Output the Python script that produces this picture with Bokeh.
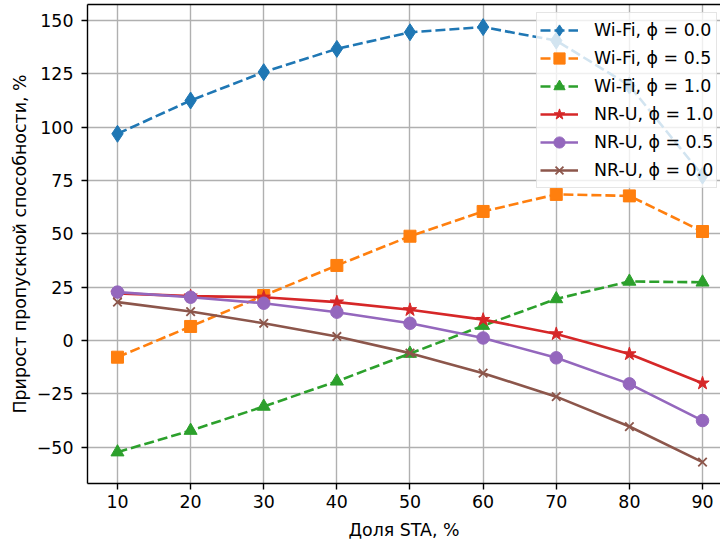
from bokeh.plotting import figure
from bokeh.models import (Range1d, FixedTicker, LinearAxis, CustomJSTickFormatter,
                          Legend, LegendItem)
from bokeh.embed import file_html
from bokeh.resources import INLINE

# ---- data ----
sta_share = [10, 20, 30, 40, 50, 60, 70, 80, 90]
wifi_00 = [96.9, 112.5, 125.8, 136.7, 144.5, 146.9, 140.6, 119.5, 77.3]
wifi_05 = [-7.8, 6.6, 21.1, 35.2, 48.9, 60.5, 68.5, 67.8, 51.1]
wifi_10 = [-52.3, -42.2, -30.9, -19.1, -6.1, 7.0, 19.5, 27.7, 27.3]
nru_10 = [22.1, 20.8, 20.3, 18.0, 14.4, 9.8, 3.1, -6.3, -20.0]
nru_05 = [22.7, 20.3, 17.5, 13.3, 8.1, 1.2, -8.1, -20.3, -37.5]
nru_00 = [18.0, 13.6, 8.1, 1.9, -5.9, -15.3, -26.3, -40.3, -57.0]

x_ticks = [10, 20, 30, 40, 50, 60, 70, 80, 90]
y_ticks = [-50, -25, 0, 25, 50, 75, 100, 125, 150]

labels = ["Wi-Fi, ϕ = 0.0", "Wi-Fi, ϕ = 0.5", "Wi-Fi, ϕ = 1.0",
          "NR-U, ϕ = 1.0", "NR-U, ϕ = 0.5", "NR-U, ϕ = 0.0"]
series = [wifi_00, wifi_05, wifi_10, nru_10, nru_05, nru_00]
colors = ["#1f77b4", "#ff7f0e", "#2ca02c", "#d62728", "#9467bd", "#8c564b"]
markers = ["diamond", "square", "triangle", "star", "circle", "x"]
msizes = [17, 12, 13, 14, 12.5, 12]
dashes = ["10 4", "10 4", "10 4", "solid", "solid", "solid"]

FONT = "DejaVu Sans"
FS = "17.4px"

p = figure(width=720, height=543, output_backend="svg", toolbar_location=None,
           x_range=Range1d(5.9, 92.46), y_range=Range1d(-67.0, 157.5),
           min_border_left=87, min_border_right=0, min_border_top=4,
           min_border_bottom=60)
p.outline_line_color = None
p.background_fill_color = "white"
p.border_fill_color = "white"

# axes
for ax in (p.xaxis[0], p.yaxis[0]):
    ax.axis_line_width = 1.4
    ax.axis_line_color = "black"
    ax.major_tick_line_width = 1.4
    ax.major_tick_line_color = "black"
    ax.major_tick_out = 6
    ax.major_tick_in = 0
    ax.minor_tick_line_color = None
    ax.major_label_text_font = FONT
    ax.major_label_text_font_size = FS
    ax.major_label_text_color = "black"
    ax.axis_label_text_font = FONT
    ax.axis_label_text_font_size = FS
    ax.axis_label_text_font_style = "normal"
    ax.axis_label_text_color = "black"

p.xaxis[0].ticker = FixedTicker(ticks=x_ticks)
p.yaxis[0].ticker = FixedTicker(ticks=y_ticks)
p.yaxis[0].formatter = CustomJSTickFormatter(
    code="return tick < 0 ? '\\u2212' + (-tick) : String(tick);")
p.xaxis[0].axis_label = "Доля STA, %"
p.yaxis[0].axis_label = "Прирост пропускной способности, %"
p.xaxis[0].major_label_standoff = 5
p.xaxis[0].axis_label_standoff = 9
p.yaxis[0].major_label_standoff = 8
p.yaxis[0].axis_label_standoff = 4

top_axis = LinearAxis(ticker=FixedTicker(ticks=[]), major_tick_out=0, major_tick_in=0,
                      minor_tick_out=0, minor_tick_in=0, axis_line_width=1.4,
                      axis_line_color="black", major_label_standoff=0,
                      major_label_text_font_size="0px")
p.add_layout(top_axis, "above")

# grid
p.xgrid.ticker = FixedTicker(ticks=x_ticks)
p.ygrid.ticker = FixedTicker(ticks=y_ticks)
for g in (p.xgrid[0], p.ygrid[0]):
    g.grid_line_color = "#b0b0b0"
    g.grid_line_width = 1.4

items = []
for lab, ys, c, m, s, d in zip(labels, series, colors, markers, msizes, dashes):
    lr = p.line(sta_share, ys, line_color=c, line_width=2.6, line_dash=d)
    if m == "x":
        sr = p.scatter(sta_share, ys, marker=m, size=s, line_color=c, line_width=1.8)
    else:
        sr = p.scatter(sta_share, ys, marker=m, size=s, fill_color=c, line_color=c,
                       line_width=1)
    items.append(LegendItem(label=lab, renderers=[lr, sr]))

legend = Legend(items=items, location=(449, 295))
legend.label_text_font = FONT
legend.label_text_font_size = FS
legend.label_text_color = "black"
legend.glyph_width = 38
legend.glyph_height = 28
legend.label_height = 20
legend.label_standoff = 16
legend.spacing = 0
legend.padding = 3
legend.margin = 0
legend.border_line_color = "#cccccc"
legend.border_line_width = 1.4
legend.background_fill_color = "white"
legend.background_fill_alpha = 0.8
p.add_layout(legend)

open("out.html", "w").write(file_html(p, INLINE))
